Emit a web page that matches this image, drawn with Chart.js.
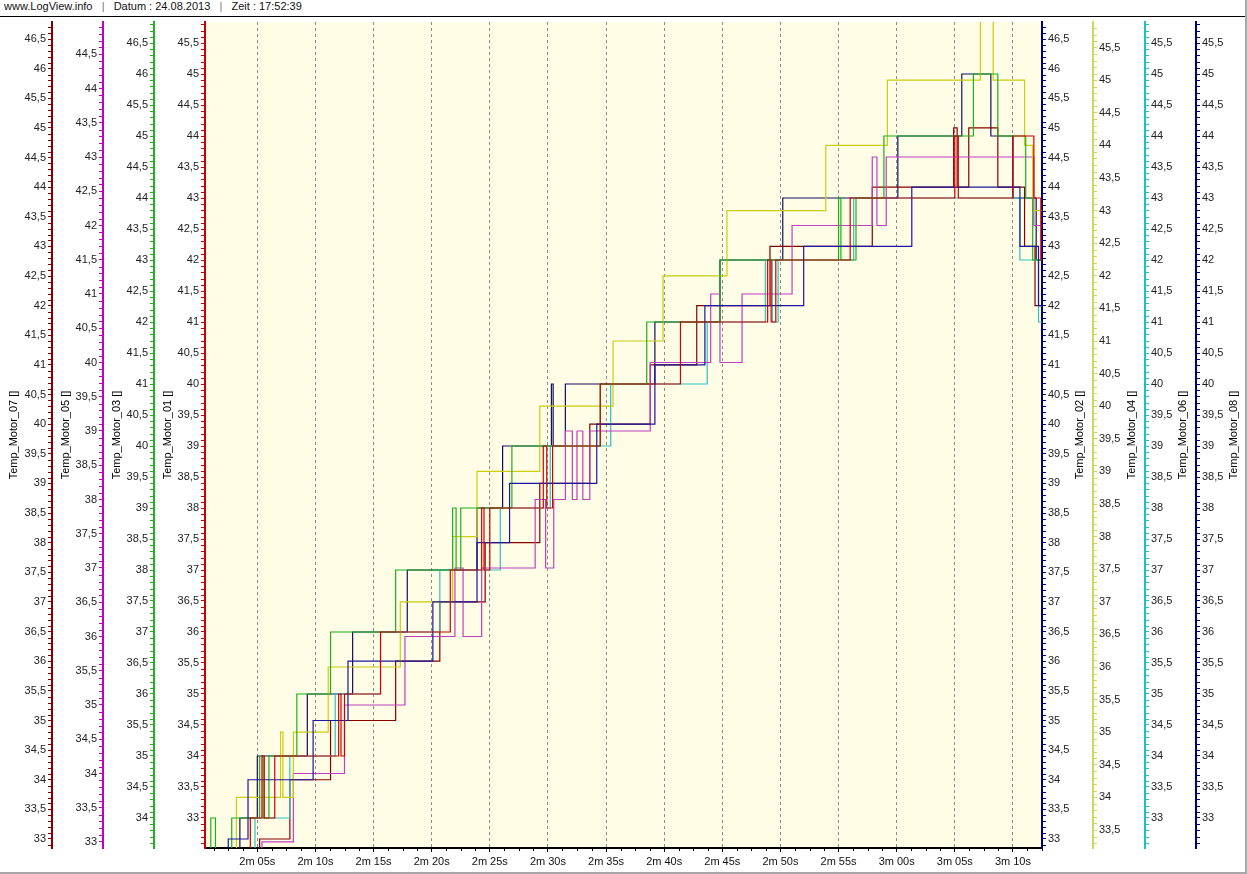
<!DOCTYPE html>
<html lang="de">
<head>
<meta charset="UTF-8">
<title>LogView - Temp_Motor</title>
<script src="https://cdn.jsdelivr.net/npm/chart.js"></script>
<style>
  html, body { margin: 0; padding: 0; background: #fff; }
  #seite { position: relative; width: 1247px; height: 874px; overflow: hidden; }
  #kopf { height: 16px; line-height: 15px; border-bottom: 1px solid #000; padding-left: 4px;
          font: 11px "Liberation Sans", Arial, sans-serif; color: #111; white-space: pre; }
  #kopf span { color: #777; }
  #box { position: absolute; left: 0; top: 17px; width: 1247px; height: 857px; }
  #rahmen { position: absolute; left: 0; top: 0; right: 0; bottom: 0; pointer-events: none;
            border-right: 2px solid #a8a8a8; border-bottom: 2px solid #a8a8a8; }
</style>
</head>
<body>
<div id="seite">
  <div id="kopf">www.LogView.info   <span>|</span>   Datum : 24.08.2013   <span>|</span>   Zeit : 17:52:39</div>
  <div id="box"><canvas id="temp"></canvas></div>
  <div id="rahmen"></div>
</div>

<script>
// Zeit in Sekunden, Temperatur in ganzen Grad (Stufenwerte, gelten bis zum naechsten Punkt)
const m01Zeit = [120.5, 124.4, 125.4, 125.6, 126.5, 132.0, 132.2, 132.5, 135.6, 141.6, 144.3, 144.5, 145.0, 149.6, 149.9, 150.4, 154.5, 161.4, 168.9, 169.2, 169.6, 176.0, 185.0, 185.3, 190.0, 191.8, 192.4, 192.6];
const m01Temp = [32, 33, 34, 33, 34, 35, 34, 35, 36, 37, 38, 37, 38, 39, 38, 39, 40, 41, 42, 41, 42, 43, 44, 43, 44, 43, 42, 42];

const m02Zeit = [120.5, 122.5, 124.2, 129.8, 132.8, 140.1, 143.9, 146.7, 154.2, 159.2, 163.5, 172.0, 181.3, 190.6, 192.2, 192.6];
const m02Temp = [32, 33, 34, 35, 36, 37, 38, 39, 40, 41, 42, 43, 44, 43, 42, 42];

const m03Zeit = [120.5, 121.0, 121.4, 122.8, 125.2, 125.5, 126.0, 128.4, 131.3, 136.9, 141.8, 142.1, 142.5, 146.9, 154.5, 158.5, 164.8, 175.0, 175.2, 176.5, 178.9, 186.6, 188.7, 191.1, 191.7, 192.6];
const m03Temp = [33, 34, 33, 34, 35, 34, 35, 36, 37, 38, 39, 38, 39, 40, 41, 42, 43, 44, 43, 44, 45, 46, 45, 44, 43, 43];

const m04Zeit = [120.5, 123.2, 127.0, 127.2, 128.1, 131.1, 137.3, 141.8, 143.9, 149.3, 155.6, 159.9, 165.4, 173.9, 179.2, 187.2, 188.3, 191.0, 191.7, 192.6];
const m04Temp = [33, 34, 35, 34, 35, 36, 37, 38, 39, 40, 41, 42, 43, 44, 45, 46, 45, 44, 43, 43];

const m05Zeit = [120.5, 125.4, 128.1, 132.5, 137.7, 142.0, 142.7, 144.3, 148.9, 149.8, 150.5, 151.5, 152.1, 152.5, 153.0, 153.6, 158.8, 164.0, 164.8, 166.7, 171.0, 177.9, 178.3, 179.1, 191.8, 192.6];
const m05Temp = [32, 33, 34, 35, 36, 37, 36, 37, 38, 37, 38, 39, 38, 39, 38, 39, 40, 41, 40, 41, 42, 43, 42, 43, 42, 42];

const m06Zeit = [120.5, 124.8, 127.8, 131.7, 135.6, 140.7, 145.9, 150.2, 155.4, 163.7, 168.7, 169.3, 169.8, 176.3, 190.6, 192.2, 192.6];
const m06Temp = [32, 33, 34, 35, 36, 37, 38, 39, 40, 41, 42, 41, 42, 43, 42, 41, 41];

const m07Zeit = [120.5, 125.2, 127.8, 131.3, 136.9, 140.7, 144.6, 149.3, 153.6, 158.8, 162.8, 169.1, 177.9, 184.9, 185.2, 186.2, 188.7, 191.0, 191.9, 192.6];
const m07Temp = [32, 33, 34, 35, 36, 37, 38, 39, 40, 41, 42, 43, 44, 45, 44, 45, 44, 43, 42, 42];

const m08Zeit = [120.5, 123.5, 125.0, 129.3, 133.2, 137.9, 143.9, 146.1, 150.3, 150.45, 151.5, 159.2, 164.8, 170.2, 180.1, 185.6, 188.1, 190.0, 192.0, 192.6];
const m08Temp = [32, 33, 34, 35, 36, 37, 38, 39, 40, 39, 40, 41, 42, 43, 44, 45, 44, 43, 42, 42];

const zeitMin = 120.5, zeitMax = 192.5;

// jede Kurve hat ihre eigene Achse (links 07,05,03,01 - rechts 02,04,06,08)
const achsen = {
  y07: { pos: 'left',  w: 52, min: 32.848, max: 46.787, farbe: '#800000', titel: 'Temp_Motor_07 []', gewicht: 4 },
  y05: { pos: 'left',  w: 51, min: 32.912, max: 44.971, farbe: '#c000c0', titel: 'Temp_Motor_05 []', gewicht: 3 },
  y03: { pos: 'left',  w: 51, min: 33.516, max: 46.839, farbe: '#20b020', titel: 'Temp_Motor_03 []', gewicht: 2 },
  y01: { pos: 'left',  w: 51, min: 32.516, max: 45.839, farbe: '#cc0000', titel: 'Temp_Motor_01 []', gewicht: 1 },
  y02: { pos: 'right', w: 51, min: 32.848, max: 46.787, farbe: '#000080', titel: 'Temp_Motor_02 []', gewicht: 1 },
  y04: { pos: 'right', w: 52, min: 33.224, max: 45.893, farbe: '#d4d45a', titel: 'Temp_Motor_04 []', gewicht: 2 },
  y06: { pos: 'right', w: 51, min: 32.516, max: 45.839, farbe: '#20c0c0', titel: 'Temp_Motor_06 []', gewicht: 3 },
  y08: { pos: 'right', w: 51, min: 32.516, max: 45.839, farbe: '#000070', titel: 'Temp_Motor_08 []', gewicht: 4 }
};

const motoren = [
  { zeit: m01Zeit, temp: m01Temp, farbe: '#d00000', achse: 'y01' },
  { zeit: m02Zeit, temp: m02Temp, farbe: '#1818a0', achse: 'y02' },
  { zeit: m03Zeit, temp: m03Temp, farbe: '#1cb01c', achse: 'y03' },
  { zeit: m04Zeit, temp: m04Temp, farbe: '#cccc10', achse: 'y04' },
  { zeit: m05Zeit, temp: m05Temp, farbe: '#c040c0', achse: 'y05' },
  { zeit: m06Zeit, temp: m06Temp, farbe: '#30c0c0', achse: 'y06' },
  { zeit: m07Zeit, temp: m07Temp, farbe: '#880000', achse: 'y07' },
  { zeit: m08Zeit, temp: m08Temp, farbe: '#101060', achse: 'y08' }
];

const schrift = '"Liberation Sans", Arial, sans-serif';

function zeitText(t) {
  const s = Math.round(t);
  return Math.floor(s / 60) + 'm ' + String(s % 60).padStart(2, '0') + 's';
}
function gradText(v) {
  const r = Math.round(v * 10);
  return r % 10 === 0 ? String(r / 10) : (r / 10).toFixed(1).replace('.', ',');
}

const scales = {
  x: {
    type: 'linear', position: 'bottom', min: zeitMin, max: zeitMax,
    ticks: { stepSize: 5, includeBounds: false, autoSkip: false, maxRotation: 0, padding: 3,
             color: '#111', font: { family: schrift, size: 11 }, callback: zeitText },
    grid: { color: '#8c8c8c', lineWidth: 1, tickLength: 4, tickColor: '#000' },
    border: { color: '#000', width: 2, dash: [3, 3] },
    afterFit: s => { s.height = 26; s.paddingLeft = 0; s.paddingRight = 0; }
  }
};
Object.entries(achsen).forEach(([id, a]) => {
  scales[id] = {
    type: 'linear', position: a.pos, weight: a.gewicht, min: a.min, max: a.max,
    ticks: { stepSize: 0.5, includeBounds: false, autoSkip: false, padding: 2,
             color: '#222', font: { family: schrift, size: 11 }, callback: gradText },
    grid: { drawOnChartArea: false, tickLength: 4, tickColor: a.farbe },
    border: { color: a.farbe, width: 2 },
    title: { display: a.pos === 'left', text: a.titel, color: '#000',
             font: { family: schrift, size: 11 }, padding: { top: 7, bottom: 0 } },
    afterFit: s => { s.width = a.w; s.paddingTop = 0; s.paddingBottom = 0; }
  };
});

// gelber Hintergrund der Zeichenflaeche
const flaeche = {
  id: 'flaeche',
  beforeDraw(chart) {
    const { ctx, chartArea: c } = chart;
    ctx.save();
    ctx.fillStyle = '#fffde6';
    ctx.fillRect(c.left, c.top, c.right - c.left, c.bottom - c.top);
    ctx.restore();
  }
};

// kleine Zwischenstriche (0,1 Grad bzw. 1,25 s) und Titel der rechten Achsen
const achsDeko = {
  id: 'achsDeko',
  afterDraw(chart) {
    const ctx = chart.ctx;
    Object.keys(achsen).forEach(id => {
      const s = chart.scales[id];
      const links = s.position === 'left';
      const x0 = links ? s.right - 1 : s.left + 1;
      ctx.save();
      ctx.strokeStyle = achsen[id].farbe;
      ctx.lineWidth = 1;
      for (let i = Math.ceil(s.min * 10); i <= Math.floor(s.max * 10); i++) {
        if (i % 5 === 0) continue;
        const y = Math.round(s.getPixelForValue(i / 10)) + 0.5;
        ctx.beginPath();
        ctx.moveTo(x0, y);
        ctx.lineTo(links ? x0 - 3 : x0 + 3, y);
        ctx.stroke();
      }
      if (!links) {
        ctx.translate(s.right - 12.6, (s.top + s.bottom) / 2);
        ctx.rotate(-Math.PI / 2);
        ctx.font = '11px ' + schrift;
        ctx.fillStyle = '#000';
        ctx.textAlign = 'center';
        ctx.textBaseline = 'middle';
        ctx.fillText(achsen[id].titel, 0, 0);
      }
      ctx.restore();
    });

    const sx = chart.scales.x;
    ctx.save();
    ctx.strokeStyle = '#000';
    ctx.lineWidth = 1;
    for (let i = Math.ceil(sx.min / 1.25); i * 1.25 <= sx.max; i++) {
      if (i % 4 === 0) continue;
      const x = Math.round(sx.getPixelForValue(i * 1.25)) + 0.5;
      ctx.beginPath();
      ctx.moveTo(x, sx.top + 1);
      ctx.lineTo(x, sx.top + 3);
      ctx.stroke();
    }
    ctx.restore();
  }
};

new Chart(document.getElementById('temp'), {
  type: 'line',
  data: {
    datasets: motoren.map(m => ({
      label: achsen[m.achse].titel,
      data: m.zeit.map((t, i) => ({ x: t, y: m.temp[i] })),
      yAxisID: m.achse,
      borderColor: m.farbe,
      borderWidth: 1.2,
      stepped: true,
      pointRadius: 0,
      fill: false
    }))
  },
  options: {
    responsive: true,
    maintainAspectRatio: false,
    animation: false,
    layout: { padding: { top: 5, left: 0, right: 0, bottom: 0 } },
    plugins: { legend: { display: false }, tooltip: { enabled: false } },
    scales
  },
  plugins: [flaeche, achsDeko]
});
</script>
</body>
</html>
